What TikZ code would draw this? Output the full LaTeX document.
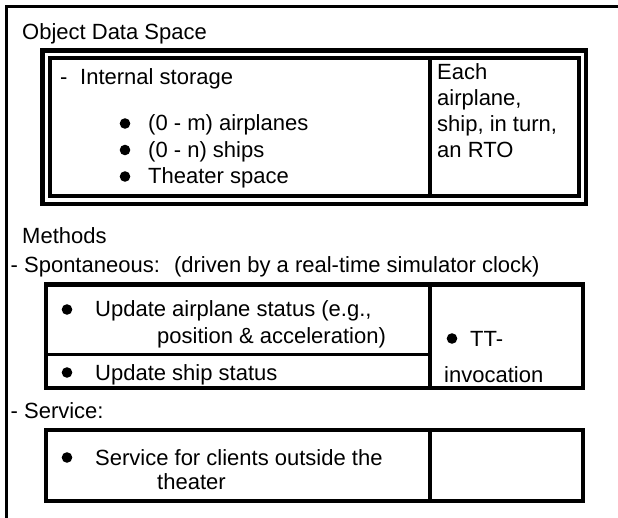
\documentclass[tikz,border=0pt]{standalone}
\usepackage{fontspec}
\setmainfont{Liberation Sans}

\begin{document}
\begin{tikzpicture}[
    x=1pt, y=-1pt,
    every node/.style={font=\fontsize{22}{26}\selectfont, anchor=base west, inner sep=0pt},
    heavy/.style={line width=4.5pt},
    thin rule/.style={line width=3pt}
]

% Parameters
\def\Bl{46}     % left edge of the method boxes
\def\Br{583}    % right edge of the method boxes
\def\Bd{430}    % column divider
\def\rdot{5.3}  % bullet radius

\useasboundingbox (0,0) rectangle (618,518);

% === Outer frame (open at right and bottom) ===
\draw[line width=3.5pt] (6.5,518) -- (6.5,6.5) -- (618,6.5);

\node (ods) at (22,40) {Object Data Space};

% === Object data space: double box ===
\draw[heavy] (42.5,50.5) rectangle (586,204);
\draw[line width=4pt] (49.5,58) rectangle (579,196);
\draw[line width=4pt] (\Bd,58) -- (\Bd,196);

\node (store) at (60,85) {-\hspace{12.7pt}Internal storage};
\node (planes) at (148,131) {(0 - m) airplanes};
\node (ships) at (148,157.5) {(0 - n) ships};
\node (space) at (148,184) {Theater space};
\foreach \y in {131,157.5,184}
    \fill (125,{\y-7.5}) circle (\rdot);

\node (each) at (437,80) {Each};
\node (each2) at (437,106) {airplane,};
\node (each3) at (437,132) {ship, in turn,};
\node (each4) at (437,157.5) {an RTO};

% === Methods ===
\node (meth) at (22,244) {Methods};
\node (spont) at (10.5,273) {- Spontaneous:\hspace{6pt} (driven by a real-time simulator clock)};

\draw[heavy] (\Bl,284.5) rectangle (\Br,388);
\draw[heavy] (\Bd,284.5) -- (\Bd,388);
\draw[thin rule] (\Bl,354.5) -- (\Bd,354.5);

\node (upd1) at (95,317) {Update airplane status (e.g.,};
\node (upd2) at (157,343) {position \& acceleration)};
\node (upd3) at (95,380) {Update ship status};
\fill (67,{317-7.5}) circle (\rdot);
\fill (67,{380-7.5}) circle (\rdot);

\node (tt) at (470,346) {TT-};
\node (inv) at (444,382) {invocation};
\fill (452,{346-7.5}) circle (\rdot);

% === Service ===
\node (serv) at (10.5,418) {- Service:};

\draw[heavy] (\Bl,430) rectangle (\Br,501);
\draw[heavy] (\Bd,430) -- (\Bd,501);

\node (cli1) at (95,465) {Service for clients outside the};
\node (cli2) at (157,489) {theater};
\fill (67,{465-7.5}) circle (\rdot);

\end{tikzpicture}
\end{document}
